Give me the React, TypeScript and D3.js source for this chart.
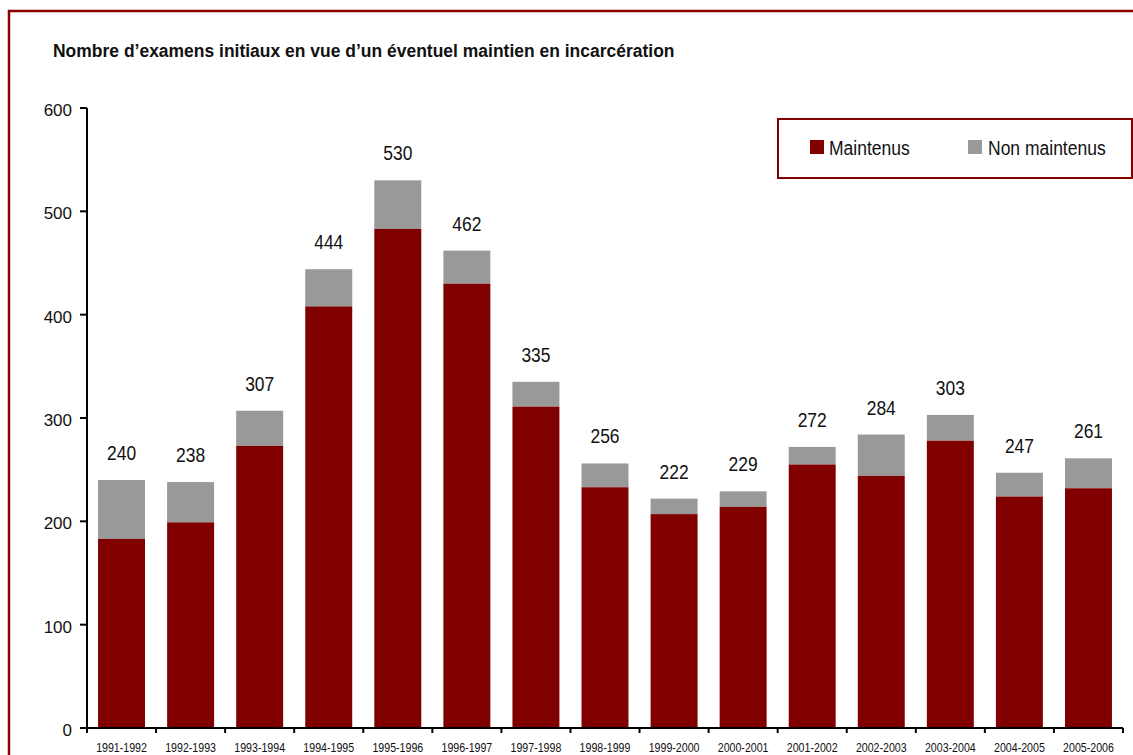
// Bar chart: initial reviews for possible continued detention, stacked by outcome.

import * as d3 from "d3";
import type { ReactNode } from "react";

const categories = [
  "1991-1992", "1992-1993", "1993-1994", "1994-1995", "1995-1996",
  "1996-1997", "1997-1998", "1998-1999", "1999-2000", "2000-2001",
  "2001-2002", "2002-2003", "2003-2004", "2004-2005", "2005-2006",
];
const totals = [240, 238, 307, 444, 530, 462, 335, 256, 222, 229, 272, 284, 303, 247, 261];
const maintenus = [183, 199, 273, 408, 483, 430, 311, 233, 207, 214, 255, 244, 278, 224, 232];
const yTicks = [0, 100, 200, 300, 400, 500, 600];

const TITLE = "Nombre d\u2019examens initiaux en vue d\u2019un \u00e9ventuel maintien en incarc\u00e9ration";
const MAROON = "#800000";
const GREY = "#999999";
const SANS = "'Liberation Sans', Arial, sans-serif";

const PLOT = { left: 87, right: 1123, top: 108, bottom: 728 };

// no Arial Narrow in the sandbox: squeeze Liberation Sans horizontally instead
function Narrow({
  x, y, sx, size, anchor = "start", weight = "normal", children,
}: {
  x: number; y: number; sx: number; size: number;
  anchor?: "start" | "middle" | "end"; weight?: string; children: ReactNode;
}) {
  return (
    <g transform={`translate(${x},${y}) scale(${sx},1)`}>
      <text textAnchor={anchor} fontFamily={SANS} fontSize={size} fontWeight={weight} fill="#111">
        {children}
      </text>
    </g>
  );
}

export default function App() {
  const x = d3
    .scaleBand<string>()
    .domain(categories)
    .range([PLOT.left, PLOT.right])
    .paddingInner(0.32)
    .paddingOuter(0.16);

  const y = d3.scaleLinear().domain([0, 600]).range([PLOT.bottom, PLOT.top]);

  const step = x.step();
  const boundaries = d3.range(categories.length + 1).map((i) => PLOT.left + i * step);

  return (
    <svg
      width={1133}
      height={755}
      style={{ position: "absolute", left: 0, top: 0, background: "#fff" }}
    >
      {/* outer frame */}
      <rect x={9} y={11} width={1140} height={760} fill="none" stroke="#8b0000" strokeWidth={2.5} />

      <Narrow x={53} y={57} sx={0.92} size={19} weight="bold">{TITLE}</Narrow>

      {/* bars */}
      {categories.map((c, i) => {
        const bx = x(c) ?? 0;
        const bw = x.bandwidth();
        return (
          <g key={c}>
            <rect x={bx} y={y(totals[i])} width={bw} height={y(maintenus[i]) - y(totals[i])} fill={GREY} />
            <rect x={bx} y={y(maintenus[i])} width={bw} height={y(0) - y(maintenus[i])} fill={MAROON} />
            <Narrow x={bx + bw / 2} y={y(totals[i]) - 20} sx={0.83} size={21} anchor="middle">
              {totals[i]}
            </Narrow>
            <Narrow x={bx + bw / 2} y={752} sx={0.85} size={12.5} anchor="middle">
              {c}
            </Narrow>
          </g>
        );
      })}

      {/* y axis */}
      <line x1={PLOT.left} x2={PLOT.left} y1={PLOT.top} y2={PLOT.bottom} stroke="#000" strokeWidth={2} />
      {yTicks.map((t) => (
        <g key={t}>
          <line x1={PLOT.left - 7} x2={PLOT.left} y1={y(t)} y2={y(t)} stroke="#000" strokeWidth={2} />
          <text
            x={PLOT.left - 15}
            y={y(t) + 8}
            textAnchor="end"
            fontFamily={SANS}
            fontSize={17}
            fill="#111"
          >
            {t}
          </text>
        </g>
      ))}

      {/* x axis */}
      <line x1={PLOT.left} x2={PLOT.right} y1={PLOT.bottom} y2={PLOT.bottom} stroke="#000" strokeWidth={2} />
      {boundaries.map((bx, i) => (
        <line key={i} x1={bx} x2={bx} y1={PLOT.bottom} y2={PLOT.bottom + 5} stroke="#000" strokeWidth={2} />
      ))}

      {/* legend */}
      <rect x={778} y={119} width={354} height={59} fill="#fff" stroke={MAROON} strokeWidth={2} />
      <rect x={810} y={140} width={14} height={14} fill={MAROON} />
      <Narrow x={829} y={155} sx={0.875} size={20}>Maintenus</Narrow>
      <rect x={968} y={140} width={14} height={14} fill={GREY} />
      <Narrow x={988} y={155} sx={0.875} size={20}>Non maintenus</Narrow>
    </svg>
  );
}
